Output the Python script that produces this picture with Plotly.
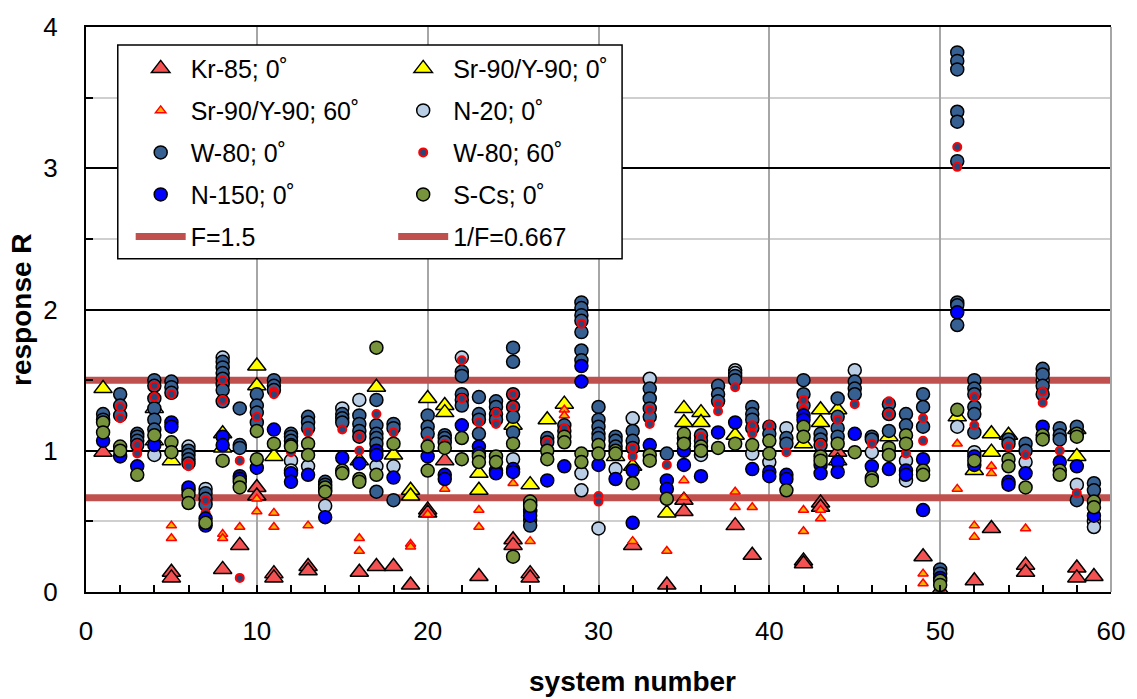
import plotly.graph_objects as go

# ---------------- data: system number -> list of responses R ----------------
kr85_0 = {1: [0.99], 5: [0.14, 0.10], 8: [0.16], 9: [0.33], 10: [0.74, 0.68], 11: [0.13, 0.10],
          13: [0.18, 0.15], 16: [0.14], 17: [0.18], 18: [0.18], 19: [0.05], 20: [0.58, 0.56],
          21: [0.93], 23: [0.11], 25: [0.37, 0.33], 26: [0.13, 0.10], 32: [0.33], 34: [0.05],
          35: [0.65, 0.57], 38: [0.47], 39: [0.26], 42: [0.22, 0.20], 43: [0.63, 0.60], 44: [0.99],
          49: [0.25], 50: [0.01], 52: [0.08], 53: [0.45], 55: [0.19, 0.14], 58: [0.17, 0.10], 59: [0.11]}

sr90_0 = {1: [1.44], 4: [1.30, 1.07], 5: [0.93], 8: [1.12, 1.02], 10: [1.60, 1.46], 11: [0.96],
          16: [0.93], 17: [1.45], 18: [0.97], 19: [0.72, 0.68], 20: [1.37], 21: [1.32, 1.27],
          23: [0.84, 0.72], 25: [1.18], 26: [0.76], 27: [1.22], 28: [1.33], 31: [0.96], 32: [0.89],
          34: [0.56], 35: [1.30, 1.20], 36: [1.27, 1.20], 38: [1.11], 42: [1.05], 43: [1.29, 1.20],
          44: [1.29, 0.93], 47: [1.10], 51: [1.24], 52: [0.86], 53: [1.12, 0.99], 54: [1.11],
          58: [1.15, 0.96]}

sr90_60 = {5: [0.47, 0.38], 8: [0.41, 0.38], 9: [0.46], 10: [0.66, 0.57], 11: [0.56, 0.46],
           13: [0.47], 16: [0.38, 0.29], 19: [0.34, 0.32], 20: [0.55], 21: [0.73], 23: [0.58, 0.46],
           25: [0.77], 26: [0.36], 28: [1.29, 1.25], 32: [0.36], 34: [0.29], 35: [0.79, 0.67],
           38: [0.71, 0.60], 39: [0.60], 42: [0.58, 0.43], 43: [0.58, 0.52], 49: [0.13, 0.06],
           51: [1.05, 0.73], 52: [0.47, 0.39], 53: [0.89, 0.84], 55: [0.45]}

n20_0 = {4: [0.97], 6: [1.03], 7: [0.73], 8: [1.66], 12: [0.93, 0.86], 13: [0.89], 14: [0.61],
         15: [1.30], 16: [1.36], 17: [0.89], 18: [0.89], 22: [1.66], 25: [0.94], 29: [0.84, 0.72],
         30: [0.45], 31: [0.87], 32: [1.23], 33: [1.51], 36: [0.97], 38: [1.57, 1.55], 39: [0.98],
         40: [0.92], 41: [1.16], 45: [1.57], 46: [0.99], 48: [0.93, 0.79], 51: [1.17], 52: [0.99],
         55: [0.92], 56: [1.50], 58: [0.76], 59: [0.50, 0.46]}

w80_0 = {1: [1.26, 1.22], 2: [1.40, 1.32, 1.25], 3: [1.12, 1.10, 1.07, 1.04],
         4: [1.50, 1.46, 1.37, 1.30, 1.22, 1.15], 5: [1.49, 1.45, 1.41],
         6: [1.00, 0.97, 0.94, 0.91, 0.72], 7: [0.70, 0.66, 0.62],
         8: [1.63, 1.59, 1.55, 1.51, 1.47, 1.43, 1.35], 9: [1.30, 1.04, 1.02],
         10: [1.40, 1.32, 1.27, 1.20], 11: [1.50, 1.46, 1.43], 12: [1.12, 1.10, 1.07, 1.04],
         13: [1.24, 1.20, 1.16], 14: [0.78, 0.76, 0.72], 15: [1.26, 1.23, 1.20],
         16: [1.25, 1.19, 1.14, 1.10], 17: [1.36, 1.18, 1.12, 1.09, 1.05, 0.71],
         18: [1.19, 1.16, 0.65], 20: [1.25, 1.17, 1.12], 21: [1.11, 1.09, 1.06],
         22: [1.56, 1.53, 1.40, 1.36, 1.32], 23: [1.38, 1.26, 1.22, 1.12],
         24: [1.35, 1.31, 1.26, 1.22], 25: [1.73, 1.63, 1.40, 1.31, 1.24, 1.13],
         26: [0.62, 0.57, 0.51, 0.47], 27: [1.09, 1.06], 28: [1.18, 1.14],
         29: [2.05, 2.01, 1.96, 1.92, 1.84, 1.71, 1.64], 30: [1.31, 1.22, 1.17, 1.12, 1.09],
         31: [1.10, 1.07, 1.03], 32: [1.14, 1.07, 1.02], 33: [1.44, 1.37, 1.30, 1.24], 34: [0.98],
         35: [1.09, 1.05], 36: [1.11, 1.07], 37: [1.46, 1.40, 1.35], 38: [1.53, 1.50],
         39: [1.31, 1.26, 1.22, 1.16], 40: [1.17, 1.12], 41: [1.09, 1.05], 42: [1.50, 1.40, 1.32],
         43: [1.12, 1.08, 1.04], 44: [1.37, 1.24, 1.16, 1.10], 45: [1.49, 1.44, 1.40],
         46: [1.10, 1.08], 47: [1.33, 1.26, 1.14], 48: [1.26, 1.18], 49: [1.40, 1.31, 1.17],
         50: [0.16, 0.13], 51: [3.82, 3.76, 3.70, 3.40, 3.33, 3.05, 2.05, 2.03, 1.89],
         52: [1.50, 1.44, 1.40, 1.31, 1.26, 1.13], 54: [1.08, 1.05], 55: [1.05, 1.00],
         56: [1.58, 1.54, 1.46, 1.40], 57: [1.16, 1.11, 1.08], 58: [1.17, 0.65], 59: [0.77, 0.72]}

w80_60 = {2: [1.31, 1.23], 3: [1.04, 0.98], 4: [1.46, 1.38], 5: [1.40], 6: [0.91, 0.89],
          7: [0.65, 0.56], 8: [1.50, 1.36], 9: [0.93, 0.10], 10: [1.24], 11: [1.42, 1.40],
          12: [0.99], 13: [1.13], 14: [0.72], 15: [1.15], 16: [1.10, 1.00], 17: [1.26], 18: [1.13],
          20: [1.07], 21: [1.05], 22: [1.64, 1.37], 23: [1.20], 24: [1.27, 1.19], 25: [1.40, 1.31],
          27: [1.06], 28: [1.16], 29: [1.90], 30: [0.68, 0.64], 32: [1.02, 0.96], 33: [1.29, 1.19],
          34: [0.90], 36: [1.10], 37: [1.33, 1.28], 38: [1.45], 39: [1.18, 1.12], 40: [1.18],
          41: [0.99], 42: [1.36, 1.29], 43: [1.05], 44: [1.22], 45: [1.33], 46: [1.05],
          47: [1.35, 1.26], 48: [0.98], 49: [1.23, 1.07], 50: [0.01], 51: [3.15, 3.01],
          52: [1.38, 1.18], 54: [1.03], 55: [0.97], 56: [1.42, 1.34], 57: [1.00], 58: [0.70]}

n150_0 = {1: [1.07], 2: [0.96], 3: [0.89], 4: [1.04], 5: [1.20, 1.17], 6: [0.74], 7: [0.52, 0.47],
          8: [1.10, 1.04], 9: [0.82, 0.80], 10: [0.88], 11: [1.15], 12: [0.84, 0.78], 13: [0.83],
          14: [0.53], 15: [0.95], 16: [0.91], 17: [1.00, 0.97], 18: [0.81], 20: [0.96],
          21: [0.83, 0.80], 22: [1.18], 23: [1.03, 0.98], 24: [0.86, 0.84], 25: [0.87, 0.85],
          26: [0.58, 0.54], 27: [0.79], 28: [0.89], 29: [1.60, 1.49], 30: [0.90], 31: [0.80],
          32: [0.86, 0.49], 33: [1.04], 34: [0.79, 0.73], 35: [1.00, 0.90], 36: [0.82], 37: [1.13],
          38: [1.20], 39: [0.87], 40: [0.85, 0.82], 41: [0.83, 0.80], 42: [1.25, 1.22],
          43: [0.90, 0.84], 44: [0.92, 0.85], 45: [1.12], 46: [0.89], 47: [0.87], 48: [0.86, 0.83],
          49: [0.94, 0.58], 50: [0.10], 51: [1.98], 52: [0.96, 0.90], 54: [0.78, 0.76], 55: [0.84],
          56: [1.17], 57: [0.92], 58: [0.89], 59: [0.54]}

scs_0 = {1: [1.20, 1.13], 2: [1.03, 1.00], 3: [0.83], 4: [1.11], 5: [1.06, 0.99], 6: [0.69, 0.63],
         7: [0.49], 8: [0.93], 9: [0.78, 0.74], 10: [1.14, 0.94], 11: [1.05], 12: [1.03],
         13: [1.05, 0.97], 14: [0.74, 0.71], 15: [0.86, 0.84], 16: [0.80, 0.78], 17: [1.73, 0.83],
         18: [1.05], 20: [1.03, 0.86], 21: [1.02], 22: [1.09, 0.94], 23: [0.96, 0.92],
         24: [0.96, 0.92], 25: [1.05, 0.25], 26: [0.64, 0.61], 27: [1.00, 0.94], 28: [1.10, 1.06],
         29: [0.98, 0.92], 30: [1.04, 0.98], 31: [1.00, 0.98], 32: [0.77], 33: [0.97, 0.93],
         34: [0.66], 35: [1.12, 1.05], 36: [1.03, 1.00], 37: [1.02], 38: [1.05], 39: [1.04],
         40: [1.07, 0.98], 41: [0.72], 42: [1.17, 1.10], 43: [0.96, 0.93], 44: [1.05], 45: [0.99],
         46: [0.81, 0.79], 47: [1.02, 0.97], 48: [1.11, 1.05], 49: [0.86, 0.83], 50: [0.08, 0.05],
         51: [1.29], 52: [0.93], 54: [0.94, 0.89], 55: [0.74], 56: [1.11, 1.08], 57: [0.86, 0.83],
         58: [1.12, 1.10], 59: [0.64, 0.60]}

F = 1.5
line_x = [0, 60]
x_ticks = [0, 10, 20, 30, 40, 50, 60]
y_ticks = [0, 1, 2, 3, 4]

FONT = "Liberation Sans, Arial, sans-serif"


def expand(d):
    xs, ys = [], []
    for s, vals in d.items():
        for v in vals:
            xs.append(s)
            ys.append(v)
    return xs, ys


fig = go.Figure()

# reference lines (drawn underneath the markers)
fig.add_trace(go.Scatter(x=line_x, y=[F, F], mode="lines", name="F=1.5",
                         line=dict(color="#C0504D", width=7), legend="legend",
                         legendrank=5, legendgroup="g9", hoverinfo="skip"))
fig.add_trace(go.Scatter(x=line_x, y=[1 / F, 1 / F], mode="lines", name="1/F=0.667",
                         line=dict(color="#C0504D", width=7), legend="legend2",
                         legendrank=5, legendgroup="g10", hoverinfo="skip"))

series = [
    # data, name, symbol, size, fill, line colour, line width, legend, rank
    (kr85_0, "Kr-85; 0˚", "triangle-up", 16, "#F45252", "black", 1.5, "legend", 1),
    (sr90_0, "Sr-90/Y-90; 0˚", "triangle-up", 16, "#FFFF00", "black", 1.5, "legend2", 1),
    (sr90_60, "Sr-90/Y-90; 60˚", "triangle-up", 9, "#FFB000", "#FF0000", 1.5, "legend", 2),
    (n20_0, "N-20; 0˚", "circle", 13, "#B9CDE5", "black", 1.5, "legend2", 2),
    (w80_0, "W-80; 0˚", "circle", 13, "#376092", "black", 1.5, "legend", 3),
    (w80_60, "W-80; 60˚", "circle", 8, "#28467A", "#FF0000", 2, "legend2", 3),
    (n150_0, "N-150; 0˚", "circle", 13, "#0000FF", "black", 1.5, "legend", 4),
    (scs_0, "S-Cs; 0˚", "circle", 13, "#77933C", "black", 1.5, "legend2", 4),
]

for i, (d, name, sym, size, fill, lc, lw, leg, rank) in enumerate(series):
    xs, ys = expand(d)
    fig.add_trace(go.Scatter(
        x=xs, y=ys, mode="markers", name=name, legend=leg, legendrank=rank,
        legendgroup="g%d" % (i + 1),
        marker=dict(symbol=sym, size=size, color=fill, line=dict(color=lc, width=lw))))

legend_common = dict(
    font=dict(family=FONT, size=25, color="black"),
    bgcolor="rgba(0,0,0,0)", borderwidth=0, itemwidth=50,
    traceorder="grouped", tracegroupgap=6.5, orientation="v",
    xanchor="left", yanchor="top", itemclick=False, itemdoubleclick=False,
)

fig.update_layout(
    width=1137, height=699,
    margin=dict(l=86, r=20, t=26, b=107),
    paper_bgcolor="white", plot_bgcolor="white",
    font=dict(family=FONT, size=25, color="black"),
    showlegend=True,
    legend=dict(x=0.0436, y=0.967, **legend_common),
    legend2=dict(x=0.2997, y=0.967, **legend_common),
    xaxis=dict(
        range=[0, 60], tickvals=x_ticks, ticks="inside", ticklen=7, tickwidth=1.5,
        tickcolor="black", showline=True, linecolor="black", linewidth=2, mirror=True,
        showgrid=True, gridcolor="#A6A6A6", gridwidth=2, zeroline=False,
        ticklabelstandoff=15, tickfont=dict(size=26),
        minor=dict(dtick=2, ticks="inside", ticklen=7, tickwidth=1.5, tickcolor="black",
                   showgrid=False),
    ),
    yaxis=dict(
        range=[0, 4], tickvals=y_ticks, ticks="inside", ticklen=7, tickwidth=1.5,
        tickcolor="black", showline=True, linecolor="black", linewidth=2,
        showgrid=True, gridcolor="black", gridwidth=1.5, zeroline=False,
        ticklabelstandoff=21, tickfont=dict(size=26),
        minor=dict(dtick=0.5, ticks="inside", ticklen=7, tickwidth=1.5, tickcolor="black",
                   showgrid=True, gridcolor="#CFCFCF", gridwidth=2),
    ),
    shapes=[
        dict(type="line", xref="paper", yref="paper", x0=1, x1=1, y0=0, y1=1,
             line=dict(color="#A6A6A6", width=2), layer="above"),
        dict(type="rect", xref="paper", yref="paper", x0=0.031, x1=0.523, y0=0.590, y1=0.968,
             fillcolor="white", line=dict(color="black", width=1.5), layer="above"),
    ],
    annotations=[
        dict(text="<b>system number</b>", xref="paper", yref="paper", x=0.533, y=-0.158,
             xanchor="center", yanchor="middle", showarrow=False,
             font=dict(family=FONT, size=28, color="black")),
        dict(text="<b>response R</b>", xref="paper", yref="paper", x=-0.063, y=0.5,
             xanchor="center", yanchor="middle", showarrow=False, textangle=-90,
             font=dict(family=FONT, size=28, color="black")),
    ],
)

fig.write_html("out.html")
